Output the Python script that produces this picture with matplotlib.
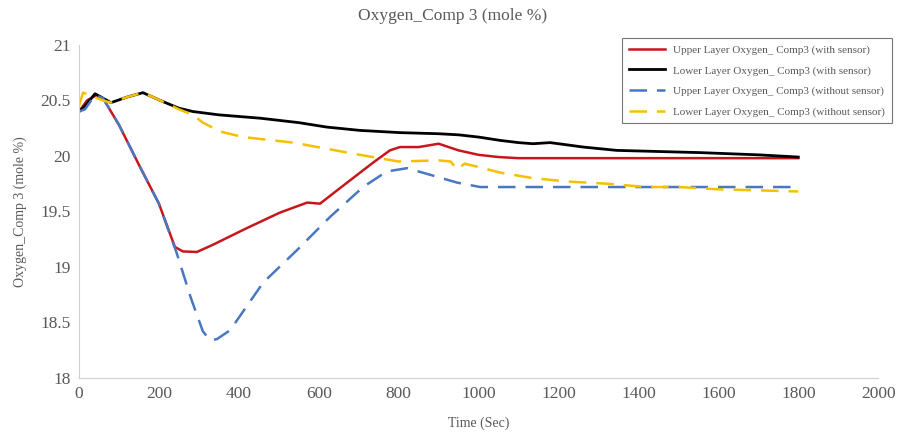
import matplotlib
matplotlib.use('Agg')
import matplotlib.pyplot as plt

plt.rcParams['font.family'] = ['Liberation Serif', 'DejaVu Serif']

# upper layer, with sensor
t_red = [0, 20, 45, 60, 100, 150, 200, 240, 260, 295, 335, 420, 503, 571, 603, 671, 736, 778, 803, 850, 900, 950, 1000, 1050, 1100, 1800]
v_red = [20.40, 20.50, 20.55, 20.52, 20.28, 19.92, 19.57, 19.18, 19.14, 19.135, 19.20, 19.35, 19.49, 19.58, 19.57, 19.76, 19.94, 20.05, 20.08, 20.08, 20.11, 20.05, 20.01, 19.99, 19.98, 19.98]

# lower layer, with sensor
t_black = [0, 15, 40, 60, 80, 120, 160, 203, 250, 285, 350, 453, 550, 620, 703, 803, 900, 950, 1000, 1054, 1100, 1136, 1179, 1221, 1262, 1346, 1450, 1554, 1700, 1800]
v_black = [20.40, 20.45, 20.56, 20.52, 20.48, 20.53, 20.57, 20.50, 20.43, 20.40, 20.37, 20.34, 20.30, 20.26, 20.23, 20.21, 20.20, 20.19, 20.17, 20.14, 20.12, 20.11, 20.12, 20.10, 20.08, 20.05, 20.04, 20.03, 20.01, 19.99]

# upper layer, without sensor
t_blue = [0, 15, 40, 60, 100, 150, 200, 245, 280, 310, 328, 345, 378, 461, 545, 628, 711, 770, 821, 879, 946, 1004, 1100, 1800]
v_blue = [20.40, 20.42, 20.55, 20.52, 20.28, 19.92, 19.57, 19.12, 18.72, 18.42, 18.34, 18.35, 18.43, 18.86, 19.15, 19.45, 19.72, 19.86, 19.89, 19.83, 19.76, 19.72, 19.72, 19.72]

# lower layer, without sensor
t_yel = [0, 10, 25, 45, 60, 80, 120, 160, 203, 250, 285, 310, 353, 411, 536, 703, 800, 900, 930, 946, 965, 1000, 1054, 1136, 1221, 1321, 1421, 1500, 1597, 1700, 1800]
v_yel = [20.45, 20.57, 20.55, 20.52, 20.50, 20.48, 20.53, 20.57, 20.50, 20.42, 20.37, 20.30, 20.22, 20.17, 20.12, 20.01, 19.95, 19.96, 19.95, 19.88, 19.93, 19.90, 19.85, 19.80, 19.77, 19.75, 19.72, 19.72, 19.70, 19.69, 19.68]

labels = ['Upper Layer Oxygen_ Comp3 (with sensor)',
          'Lower Layer Oxygen_ Comp3 (with sensor)',
          'Upper Layer Oxygen_ Comp3 (without sensor)',
          'Lower Layer Oxygen_ Comp3 (without sensor)']

grey = '#595959'

fig = plt.figure(figsize=(9.02, 4.36), dpi=100)
ax = fig.add_axes([0.0876, 0.133, 0.886, 0.764])

ax.plot(t_red, v_red, color='#c8161d', lw=1.8, label=labels[0])
ax.plot(t_black, v_black, color='black', lw=2.0, label=labels[1])
ax.plot(t_blue, v_blue, color='#4a78c0', lw=1.8, ls=(0, (7, 4)), label=labels[2])
ax.plot(t_yel, v_yel, color='#f5c000', lw=1.8, ls=(0, (7, 4)), label=labels[3])

ax.set_xlim(0, 2000)
ax.set_ylim(18, 21)
ax.set_xticks(range(0, 2001, 200))
ax.set_yticks([18, 18.5, 19, 19.5, 20, 20.5, 21])
ax.set_yticklabels(['18', '18.5', '19', '19.5', '20', '20.5', '21'])
ax.tick_params(length=0, labelsize=12.5, colors=grey, pad=6)

for s in ['top', 'right']:
    ax.spines[s].set_visible(False)
for s in ['left', 'bottom']:
    ax.spines[s].set_color('#d0d0d0')

# title placed in figure coords (axes title kept drifting)
fig.text(0.502, 1 - 16 / 436, 'Oxygen_Comp 3 (mole %)', fontsize=12.5, color=grey,
         ha='center', va='center')
ax.set_xlabel('Time (Sec)', fontsize=10, color=grey, labelpad=10)
ax.set_ylabel('Oxygen_Comp 3 (mole %)', fontsize=10, color=grey, labelpad=10)

leg = ax.legend(loc='upper right', bbox_to_anchor=(0.995, 0.925),
                bbox_transform=fig.transFigure, fontsize=8,
                frameon=True, fancybox=False, edgecolor='#555555',
                handlelength=3.2, labelspacing=0.95, borderpad=0.6)
leg.get_frame().set_linewidth(0.8)
for txt in leg.get_texts():
    txt.set_color(grey)

fig.savefig('out.png', dpi=100)
